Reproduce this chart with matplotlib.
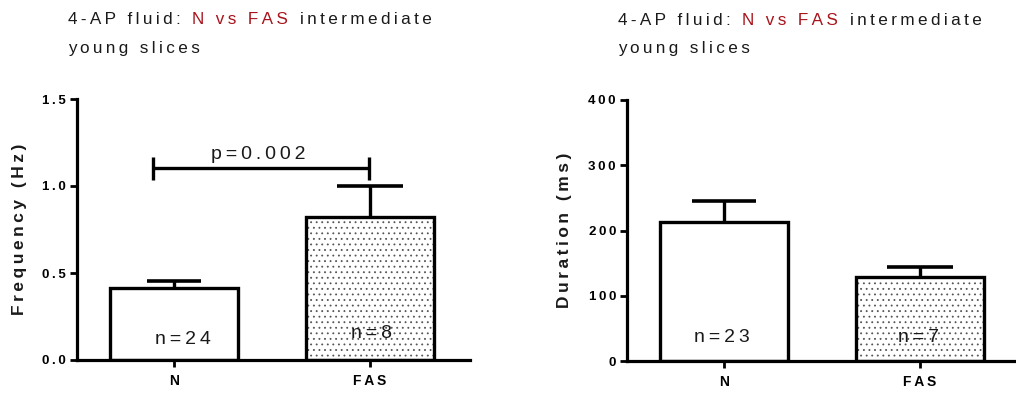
import matplotlib
matplotlib.use('Agg')
import matplotlib.pyplot as plt
from matplotlib.font_manager import FontProperties

plt.rcParams['font.family'] = ['Liberation Sans', 'DejaVu Sans']
plt.rcParams['hatch.linewidth'] = 0.6

# ---------------- data ----------------
categories = ['N', 'FAS']

freq_mean = [0.414, 0.82]
freq_sem = [0.040, 0.180]
freq_n = ['n=24', 'n=8']
freq_ticks = [0.0, 0.5, 1.0, 1.5]
freq_ticklabels = ['0.0', '0.5', '1.0', '1.5']
freq_ylabel = 'Frequency (Hz)'

dur_mean = [213, 129]
dur_sem = [32, 15]
dur_n = ['n=23', 'n=7']
dur_ticks = [0, 100, 200, 300, 400]
dur_ticklabels = ['0', '100', '200', '300', '400']
dur_ylabel = 'Duration (ms)'

p_text = 'p=0.002'
title_parts = ['4-AP fluid: ', 'N vs FAS', ' intermediate']
title_line2 = 'young slices'

# ---------------- style ----------------
W_PX, H_PX = 1016, 396
BLACK = '#1a1a1a'
RED = '#a8141c'
THIN = '\u2009'


def sp(s, gap=THIN):
    return gap.join(list(s))


fig = plt.figure(figsize=(W_PX / 100, H_PX / 100), dpi=100)
renderer = fig.canvas.get_renderer()


def fx(px):
    return px / W_PX


def fy(py):
    return 1 - py / H_PX


def text_w(s, prop):
    return renderer.get_text_width_height_descent(s, prop, ismath=False)[0]


def draw_title(x0, y1, y2):
    prop = FontProperties(family=['Liberation Sans', 'DejaVu Sans'], size=12.3)
    full = ''.join(title_parts)
    F = sp(full)
    colors = [BLACK, RED, BLACK]
    starts = []
    pos = 0
    for part in title_parts:
        starts.append(pos)
        pos += len(part)
    for i, part in enumerate(title_parts):
        a = starts[i]
        b = a + len(part)
        while a < b and full[a] == ' ':
            a += 1
        while b > a and full[b - 1] == ' ':
            b -= 1
        ia, ib = 2 * a, 2 * (b - 1) + 1
        if ia == 0:
            x = x0
        else:
            x = x0 + text_w(F[:ia + 1], prop) - text_w(F[ia], prop)
        fig.text(fx(x), fy(y1), F[ia:ib], color=colors[i], fontproperties=prop,
                 ha='left', va='baseline')
    fig.text(fx(x0), fy(y2), sp(title_line2), color=BLACK, fontproperties=prop,
             ha='left', va='baseline')


def setup_axes(rect_px, ylim, xlim, ticks, ticklabels):
    l, t, r, b = rect_px
    ax = fig.add_axes([fx(l), fy(b), fx(r - l), (b - t) / H_PX])
    ax.set_ylim(*ylim)
    ax.set_xlim(*xlim)
    for s in ['top', 'right']:
        ax.spines[s].set_visible(False)
    for s in ['left', 'bottom']:
        ax.spines[s].set_linewidth(2.3)
        ax.spines[s].set_color('black')
        ax.spines[s].set_capstyle('projecting')
    ax.set_yticks(ticks)
    ax.set_yticklabels([sp(t_) for t_ in ticklabels],
                       fontsize=9.5, fontweight='bold')
    ax.set_xticks(range(len(categories)))
    ax.set_xticklabels([sp(c) for c in categories], fontsize=10, fontweight='bold')
    ax.tick_params(axis='y', direction='out', length=5, width=2, pad=3, colors='black')
    ax.tick_params(axis='x', direction='out', length=5, width=2, pad=5, colors='black')
    ax.patch.set_alpha(0)
    return ax


def draw_bars(ax, means, sems, capsizes):
    xs = list(range(len(means)))
    width = 0.655
    ax.bar(xs, means, width=width, color='white', edgecolor='none', linewidth=0, zorder=2)
    ax.bar([xs[1]], [means[1]], width=width, color='white', edgecolor='#555555',
           hatch='...', linewidth=0, zorder=2.1)
    for i in xs:
        eb = ax.errorbar([xs[i]], [means[i]], yerr=[[0], [sems[i]]], fmt='none',
                         ecolor='black', elinewidth=2.4, capsize=capsizes[i],
                         capthick=2.6, zorder=2.15)
        caps = eb[1]
        if len(caps) > 1:
            caps[0].set_visible(False)
    ax.bar(xs, means, width=width, color='none', edgecolor='black', linewidth=2.4,
           zorder=2.2)


# ---------------- left: frequency ----------------
draw_title(68, 24, 53)
ax1 = setup_axes((77, 99, 470, 360), (0, 1.5), (-0.495, 1.51),
                 freq_ticks, freq_ticklabels)
draw_bars(ax1, freq_mean, freq_sem, [19.5, 23.5])
bracket_x = [-0.107, 0.995]
bracket_y = 1.103
bracket_h = [1.034, 1.167]
for xb in bracket_x:
    ax1.plot([xb, xb], bracket_h, color='black', lw=2.4, solid_capstyle='butt',
             zorder=3, clip_on=False)
ax1.plot(bracket_x, [bracket_y, bracket_y], color='black', lw=2.4,
         solid_capstyle='butt', zorder=3, clip_on=False)
ax1.text(0.43, 1.157, sp(p_text), ha='center', va='baseline', fontsize=14,
         color=BLACK)
freq_n_pos = [(0.045, 0.092), (1.01, 0.126)]
for (xp, yp), lab in zip(freq_n_pos, freq_n):
    ax1.text(xp, yp, sp(lab), ha='center', va='baseline', fontsize=14, color=BLACK,
             zorder=4)
fig.text(fx(20), fy(229.5), sp(freq_ylabel), rotation=90, ha='center', va='center',
         fontsize=12.5, fontweight='bold', color=BLACK)

# ---------------- right: duration ----------------
draw_title(618, 25, 53)
ax2 = setup_axes((627, 100, 1015, 361), (0, 400), (-0.495, 1.485),
                 dur_ticks, dur_ticklabels)
draw_bars(ax2, dur_mean, dur_sem, [23, 23.5])
dur_n_pos = [(-0.01, 29), (0.995, 29)]
for (xp, yp), lab in zip(dur_n_pos, dur_n):
    ax2.text(xp, yp, sp(lab), ha='center', va='baseline', fontsize=14, color=BLACK,
             zorder=4)
fig.text(fx(565), fy(230), sp(dur_ylabel), rotation=90, ha='center', va='center',
         fontsize=12.5, fontweight='bold', color=BLACK)

fig.savefig('out.png', dpi=100, facecolor='white')
